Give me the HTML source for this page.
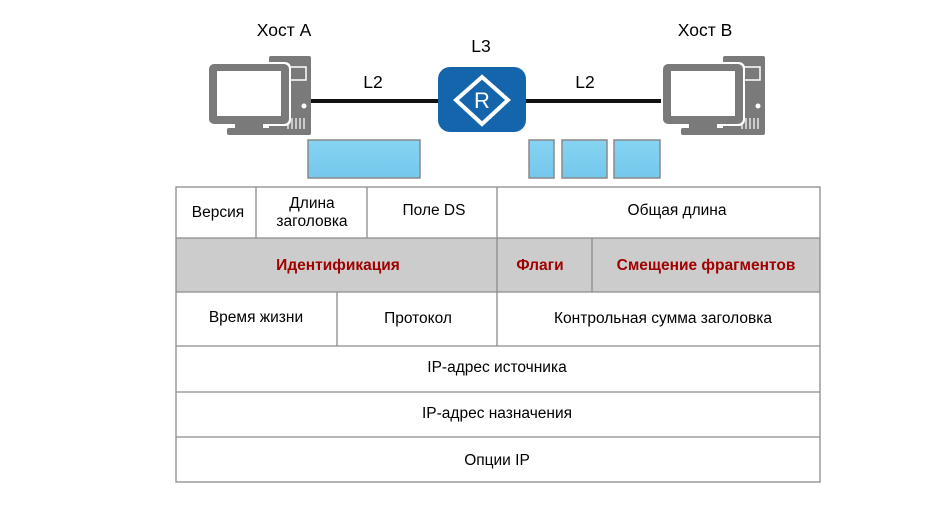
<!DOCTYPE html>
<html><head><meta charset="utf-8"><style>
html,body{margin:0;padding:0;background:#fff;}
svg{display:block;}
text{font-family:"Liberation Sans",Arial,sans-serif;}
</style></head><body>
<svg width="950" height="505" viewBox="0 0 950 505" xmlns="http://www.w3.org/2000/svg">
<defs>
<g id="pc">
  <rect x="60" y="0" width="42" height="79" rx="2" fill="#7a7a7a"/>
  <rect x="66" y="11" width="31" height="13" fill="none" stroke="#fff" stroke-width="1.5"/>
  <circle cx="95" cy="50" r="2.5" fill="#fff"/>
  <g stroke="#fff" stroke-width="1.2"><line x1="83" y1="62" x2="83" y2="73"/><line x1="87" y1="62" x2="87" y2="73"/><line x1="91" y1="62" x2="91" y2="73"/><line x1="95" y1="62" x2="95" y2="73"/><line x1="79" y1="66" x2="79" y2="73"/></g>
  <rect x="-2" y="6" width="84" height="64" rx="6" fill="#fff"/>
  <rect x="0" y="8" width="80" height="60" rx="5" fill="#7a7a7a"/>
  <rect x="8" y="15" width="64" height="45" fill="#fff"/>
  <rect x="26" y="67" width="28" height="6" fill="#7a7a7a"/>
  <rect x="18" y="72" width="44" height="7" rx="2" fill="#7a7a7a"/>
</g>
<linearGradient id="pk" x1="0" y1="0" x2="0" y2="1"><stop offset="0" stop-color="#86d3f2"/><stop offset="1" stop-color="#74c8ec"/></linearGradient>
</defs>

<text x="284" y="36" font-size="17.5" text-anchor="middle">Хост А</text>
<text x="705" y="36" font-size="17.5" text-anchor="middle">Хост В</text>
<text x="481" y="52" font-size="17.5" text-anchor="middle">L3</text>
<text x="373" y="88" font-size="17.5" text-anchor="middle">L2</text>
<text x="585" y="88" font-size="17.5" text-anchor="middle">L2</text>

<line x1="310" y1="101" x2="440" y2="101" stroke="#111" stroke-width="4"/>
<line x1="524" y1="101" x2="665" y2="101" stroke="#111" stroke-width="4"/>

<use href="#pc" transform="translate(209,56)"/>
<use href="#pc" transform="translate(663,56)"/>

<rect x="438" y="67" width="88" height="65" rx="12" fill="#1565ad"/>
<polygon points="482,77 508,100 482,124 456,100" fill="none" stroke="#fff" stroke-width="4"/>
<text x="482" y="108" font-size="22" fill="#fff" text-anchor="middle">R</text>

<g stroke="#8a8a8a" stroke-width="1.5" fill="url(#pk)">
<rect x="308" y="140" width="112" height="38"/>
<rect x="529" y="140" width="25" height="38"/>
<rect x="562" y="140" width="45" height="38"/>
<rect x="614" y="140" width="46" height="38"/>
</g>

<rect x="176" y="238" width="644" height="54" fill="#cccccc"/>
<g stroke="#8c8c8c" stroke-width="1.3" fill="none">
<rect x="176" y="187" width="644" height="295"/>
<line x1="176" y1="238" x2="820" y2="238"/>
<line x1="176" y1="292" x2="820" y2="292"/>
<line x1="176" y1="346" x2="820" y2="346"/>
<line x1="176" y1="392" x2="820" y2="392"/>
<line x1="176" y1="437" x2="820" y2="437"/>
<line x1="256" y1="187" x2="256" y2="238"/>
<line x1="367" y1="187" x2="367" y2="238"/>
<line x1="497" y1="187" x2="497" y2="346"/>
<line x1="592" y1="238" x2="592" y2="292"/>
<line x1="337" y1="292" x2="337" y2="346"/>
</g>
<g font-size="15.5" text-anchor="middle" fill="#000">
<text x="218" y="217">Версия</text>
<text x="312" y="208">Длина</text>
<text x="312" y="226">заголовка</text>
<text x="434" y="215">Поле DS</text>
<text x="677" y="215">Общая длина</text>
<text x="256" y="322">Время жизни</text>
<text x="418" y="323">Протокол</text>
<text x="663" y="323">Контрольная сумма заголовка</text>
<text x="497" y="372">IP-адрес источника</text>
<text x="497" y="418">IP-адрес назначения</text>
<text x="497" y="465">Опции IP</text>
</g>
<g font-size="15.5" font-weight="bold" text-anchor="middle" fill="#a00000">
<text x="338" y="270">Идентификация</text>
<text x="540" y="270">Флаги</text>
<text x="706" y="270">Смещение фрагментов</text>
</g>
</svg>
</body></html>
